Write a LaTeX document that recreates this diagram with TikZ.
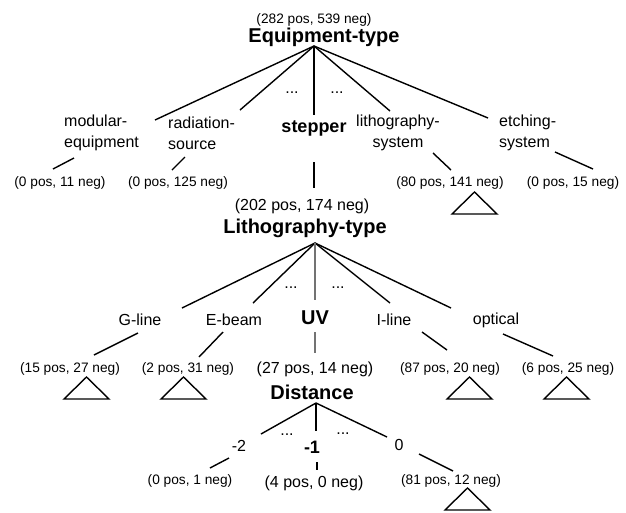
\documentclass[tikz,border=0pt]{standalone}
\usepackage{fontspec}
\setmainfont{Liberation Sans}

\begin{document}
\begin{tikzpicture}[x=1pt,y=-1pt,
    lbl/.style={inner sep=0pt, font=\fontsize{16}{21}\selectfont},
    key/.style={inner sep=0pt, font=\fontsize{20}{24}\selectfont\bfseries},
    smallkey/.style={inner sep=0pt, font=\fontsize{18}{22}\selectfont\bfseries},
    cnt/.style={inner sep=0pt, font=\fontsize{13.7}{16}\selectfont},
    bigcnt/.style={inner sep=0pt, font=\fontsize{16}{19}\selectfont},
    edge/.style={line width=1.4pt},
    thinedge/.style={line width=1.1pt, black!55},
    subtree/.pic={\draw[line width=1.4pt] (0,0) -- (-22.5,22) -- (22.5,22) -- cycle;}]

    \useasboundingbox (0,0) rectangle (626,512);

    % Root attribute: Equipment-type
    \node[cnt] (cEquip) at (314,20) {(282 pos, 539 neg)};
    \node[key] (equip) at (324,37) {Equipment-type};
    \coordinate (eqR) at (314,46);

    % Values of Equipment-type
    \node[lbl, anchor=west, align=left] (modular) at (64,133) {modular-\\equipment};
    \node[lbl, anchor=west, align=left] (radiation) at (168,133) {radiation-\\source};
    \node[smallkey] (stepper) at (314,128) {stepper};
    \node[lbl, align=center] (litho) at (398,133) {lithography-\\system};
    \node[lbl, anchor=west, align=left] (etching) at (499,133) {etching-\\system};
    \node[lbl] (eqDotsL) at (292,93) {...};
    \node[lbl] (eqDotsR) at (337,93) {...};

    % Branches from the root
    \coordinate (eqMod) at (155,120);
    \coordinate (eqRad) at (240,110);
    \coordinate (eqStp) at (314,115);
    \coordinate (eqLit) at (390,111);
    \coordinate (eqEtc) at (488,118);
    \foreach \t in {eqMod,eqRad,eqStp,eqLit,eqEtc}
        \draw[edge] (eqR) -- (\t);

    % Counts below the values
    \node[cnt] (cMod) at (60,183) {(0 pos, 11 neg)};
    \node[cnt] (cRad) at (178,183) {(0 pos, 125 neg)};
    \node[cnt] (cLit) at (450,183) {(80 pos, 141 neg)};
    \node[cnt] (cEtc) at (573,183) {(0 pos, 15 neg)};

    \coordinate (modA) at (74,158);   \coordinate (modB) at (53,169);
    \coordinate (radA) at (185,157);  \coordinate (radB) at (172,170);
    \coordinate (stpA) at (314,162);  \coordinate (stpB) at (314,188);
    \coordinate (litA) at (433,153);  \coordinate (litB) at (451,170);
    \coordinate (etcA) at (555,152);  \coordinate (etcB) at (593,169);
    \foreach \a/\b in {modA/modB,radA/radB,stpA/stpB,litA/litB,etcA/etcB}
        \draw[edge] (\a) -- (\b);

    \pic at (474.5,192) {subtree};

    % Second attribute: Lithography-type
    \node[bigcnt] (cLtype) at (302,206) {(202 pos, 174 neg)};
    \node[key] (ltype) at (305,228) {Lithography-type};
    \coordinate (ltR) at (315,243);

    \node[lbl] (gline) at (140,320) {G-line};
    \node[lbl] (ebeam) at (234,320) {E-beam};
    \node[key] (uv) at (315,318) {UV};
    \node[lbl] (iline) at (394,320) {I-line};
    \node[lbl] (optical) at (496,320) {optical};
    \node[lbl] (ltDotsL) at (291,288) {...};
    \node[lbl] (ltDotsR) at (338,288) {...};

    \coordinate (ltG) at (182,308);
    \coordinate (ltE) at (253,303);
    \coordinate (ltU) at (315,300);
    \coordinate (ltI) at (390,303);
    \coordinate (ltO) at (451,308);
    \foreach \t in {ltG,ltE,ltI,ltO}
        \draw[edge] (ltR) -- (\t);
    \draw[thinedge] (ltR) -- (ltU);

    \node[cnt] (cG) at (70,369) {(15 pos, 27 neg)};
    \node[cnt] (cE) at (188,369) {(2 pos, 31 neg)};
    \node[bigcnt] (cUV) at (315,369) {(27 pos, 14 neg)};
    \node[cnt] (cI) at (450,369) {(87 pos, 20 neg)};
    \node[cnt] (cO) at (568,369) {(6 pos, 25 neg)};

    \coordinate (gA) at (138,333);  \coordinate (gB) at (94,355);
    \coordinate (eA) at (223,332);  \coordinate (eB) at (199,357);
    \coordinate (uA) at (315,332);  \coordinate (uB) at (315,353);
    \coordinate (iA) at (422,332);  \coordinate (iB) at (447,350);
    \coordinate (oA) at (503,334);  \coordinate (oB) at (553,356);
    \foreach \a/\b in {gA/gB,eA/eB,iA/iB,oA/oB}
        \draw[edge] (\a) -- (\b);
    \draw[thinedge] (uA) -- (uB);

    \pic at (86.5,377) {subtree};
    \pic at (183.5,377) {subtree};
    \pic at (469.5,377) {subtree};
    \pic at (566.5,377) {subtree};

    % Third attribute: Distance
    \node[key] (dist) at (312,392) {Distance};
    \coordinate (dR) at (316,403);

    \node[lbl] (dm2) at (239,446) {-2};
    \node[smallkey] (dm1) at (312,447) {-1};
    \node[lbl] (d0) at (399,445) {0};
    \node[lbl] (dDotsL) at (287,435) {...};
    \node[lbl] (dDotsR) at (343,434) {...};

    \coordinate (dL) at (261,434);
    \coordinate (dM) at (316,431);
    \coordinate (dRt) at (387,437);
    \foreach \t in {dL,dM,dRt}
        \draw[edge] (dR) -- (\t);

    \node[cnt] (cM2) at (190,481) {(0 pos, 1 neg)};
    \node[bigcnt] (cM1) at (314,483) {(4 pos, 0 neg)};
    \node[cnt] (c0) at (451,481) {(81 pos, 12 neg)};

    \coordinate (m2A) at (229,458);  \coordinate (m2B) at (210,468);
    \coordinate (m1A) at (317,462);  \coordinate (m1B) at (317,470);
    \coordinate (zA) at (419,454);   \coordinate (zB) at (453,471);
    \foreach \a/\b in {m2A/m2B,m1A/m1B,zA/zB}
        \draw[edge] (\a) -- (\b);

    \pic at (467.5,488) {subtree};

\end{tikzpicture}
\end{document}
